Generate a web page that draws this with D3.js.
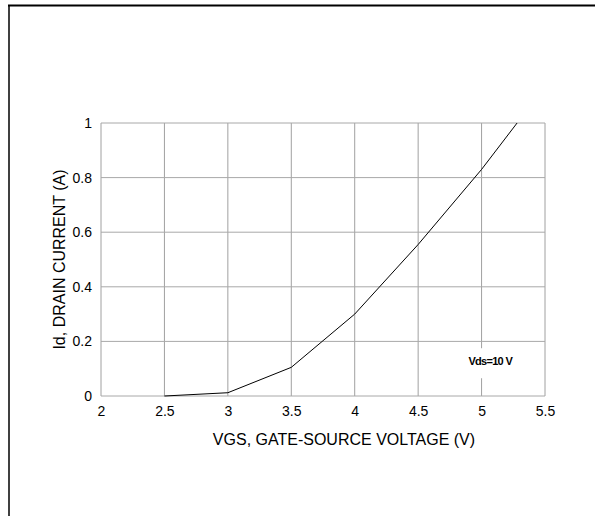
<!DOCTYPE html>
<html>
<head>
<meta charset="utf-8">
<script src="https://cdn.jsdelivr.net/npm/d3@7"></script>
<style>
  body { margin: 0; background: #fff; }
  svg text { font-family: "Liberation Sans", Arial, sans-serif; }
</style>
</head>
<body>
<div id="chart"></div>
<script>
// transfer curve
var vgs = [2.5, 3, 3.5, 4, 4.5, 5, 5.28];
var id = [0, 0.012, 0.105, 0.3, 0.555, 0.83, 1.0];
var xTicks = [2, 2.5, 3, 3.5, 4, 4.5, 5, 5.5];
var yTicks = [0, 0.2, 0.4, 0.6, 0.8, 1];

var width = 595;
var height = 516;
var margin = { top: 123, right: 50, bottom: 120, left: 101 };
var w = width - margin.left - margin.right;
var h = height - margin.top - margin.bottom;

var svg = d3.select("#chart")
    .append("svg")
    .attr("width", width)
    .attr("height", height);

// page frame (top and left edges only visible)
svg.append("line")
    .attr("x1", 8).attr("x2", width).attr("y1", 5.5).attr("y2", 5.5)
    .attr("stroke", "#000").attr("stroke-width", 2);
svg.append("line")
    .attr("x1", 9).attr("x2", 9).attr("y1", 5).attr("y2", height)
    .attr("stroke", "#000").attr("stroke-width", 1.5);

var x = d3.scaleLinear().domain([2, 5.5]).range([0, w]);
var y = d3.scaleLinear().domain([0, 1]).range([h, 0]);

var g = svg.append("g")
    .attr("transform", "translate(" + margin.left + "," + margin.top + ")");

// grid
g.selectAll(".vgrid")
    .data(xTicks)
    .enter().append("line")
    .attr("class", "vgrid")
    .attr("x1", function (d) { return x(d); })
    .attr("x2", function (d) { return x(d); })
    .attr("y1", 0).attr("y2", h)
    .attr("stroke", "#a0a0a0");

g.selectAll(".hgrid")
    .data(yTicks)
    .enter().append("line")
    .attr("class", "hgrid")
    .attr("x1", 0).attr("x2", w)
    .attr("y1", function (d) { return y(d); })
    .attr("y2", function (d) { return y(d); })
    .attr("stroke", "#a8a8a8");

// axes (labels only)
var xAxis = g.append("g")
    .attr("transform", "translate(0," + h + ")")
    .call(d3.axisBottom(x).tickValues(xTicks).tickSize(0).tickPadding(10)
        .tickFormat(d3.format("")))
    .attr("font-size", 14);
xAxis.select(".domain").remove();
xAxis.selectAll("text").attr("fill", "#000");

var yAxis = g.append("g")
    .call(d3.axisLeft(y).tickValues(yTicks).tickSize(0).tickPadding(9)
        .tickFormat(d3.format("")))
    .attr("font-size", 14);
yAxis.select(".domain").remove();
yAxis.selectAll("text").attr("fill", "#000");

// annotation with white backing
g.append("rect")
    .attr("x", x(4.95) - 8).attr("y", y(0.175))
    .attr("width", 75).attr("height", 30)
    .attr("fill", "#fff");
g.append("text")
    .attr("x", x(4.95) + 15).attr("y", y(0.115))
    .attr("text-anchor", "middle")
    .attr("font-size", 11)
    .attr("font-weight", "bold")
    .style("letter-spacing", "-0.7px")
    .text("Vds=10 V");

// curve
var line = d3.line()
    .x(function (d, i) { return x(vgs[i]); })
    .y(function (d) { return y(d); });

g.append("path")
    .datum(id)
    .attr("d", line)
    .attr("fill", "none")
    .attr("stroke", "#000")
    .attr("stroke-width", 1);

// axis titles
g.append("text")
    .attr("x", x(3.75) + 21)
    .attr("y", h + 49)
    .attr("text-anchor", "middle")
    .attr("font-size", 16)
    .text("VGS, GATE-SOURCE VOLTAGE (V)");

g.append("text")
    .attr("transform", "translate(-36," + (h / 2) + ") rotate(-90)")
    .attr("text-anchor", "middle")
    .attr("font-size", 16)
    .text("Id, DRAIN CURRENT (A)");
</script>
</body>
</html>
